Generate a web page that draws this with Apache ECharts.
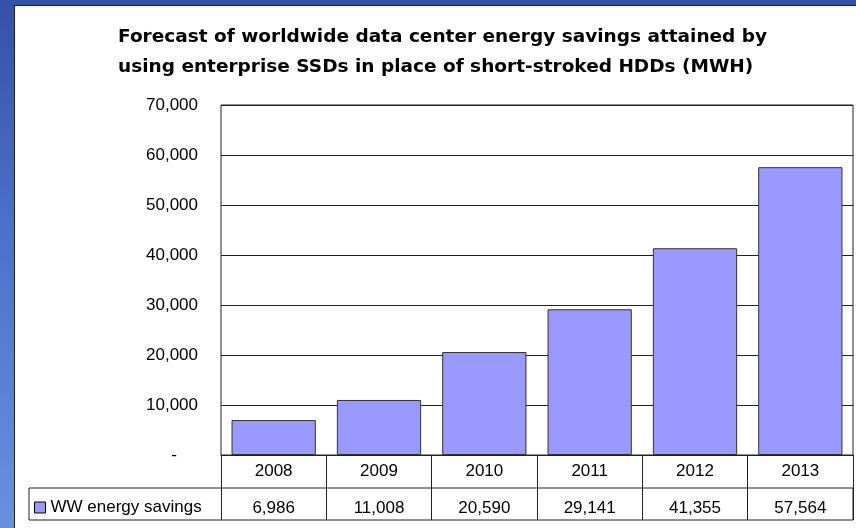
<!DOCTYPE html>
<html>
<head>
<meta charset="utf-8">
<script src="https://cdn.jsdelivr.net/npm/echarts@6/dist/echarts.min.js"></script>
<style>
  html, body { margin: 0; padding: 0; }
  body {
    width: 856px; height: 528px; overflow: hidden; position: relative;
    background: linear-gradient(to bottom, #3550a8 0%, #4e72cc 45%, #6a8ee0 100%);
  }
  #panel {
    position: absolute; left: 14px; top: 5px; right: 0; bottom: 0;
    background: #fff; border-left: 1px solid #222; border-top: 1px solid #222;
  }
  #chart { position: absolute; left: 0; top: 0; width: 856px; height: 528px; }
</style>
</head>
<body>
<div id="panel"></div>
<div id="chart"></div>
<script>
// data
const years = ['2008', '2009', '2010', '2011', '2012', '2013']
const savings = [6986, 11008, 20590, 29141, 41355, 57564]
const seriesName = 'WW energy savings'
const titleText = 'Forecast of worldwide data center energy savings attained by\nusing enterprise SSDs in place of short-stroked HDDs (MWH)'

const FONT = '"Liberation Sans", Arial, sans-serif'
const fmt = (v) => v.toLocaleString('en-US')

const chart = echarts.init(document.getElementById('chart'))

const option = {
    backgroundColor: 'transparent',
    animation: false,
    title: {
        text: titleText,
        left: 118,
        top: 22,
        padding: 0,
        textStyle: {
            fontFamily: '"DejaVu Sans", Verdana, sans-serif',
            fontWeight: 'bold',
            fontSize: 18.5,
            lineHeight: 30,
            color: '#000'
        }
    },
    legend: {
        data: [seriesName],
        left: 34,
        top: 499,
        padding: 0,
        icon: 'rect',
        itemWidth: 11,
        itemHeight: 11,
        itemStyle: { borderColor: '#000', borderWidth: 1 },
        textStyle: { fontFamily: FONT, fontSize: 17, color: '#000' }
    },
    grid: [
        {
            // plot area
            left: 221, top: 105, width: 632, height: 350,
            show: true, borderColor: '#222', borderWidth: 1,
            backgroundColor: 'transparent'
        },
        {
            // data table row
            left: 29, top: 488, width: 824, height: 32,
            show: true, borderColor: '#222', borderWidth: 1,
            backgroundColor: 'transparent'
        }
    ],
    xAxis: {
        type: 'category',
        gridIndex: 0,
        data: years,
        axisLine: { show: true, lineStyle: { color: '#222', width: 1 } },
        axisTick: { show: true, length: 65, lineStyle: { color: '#222', width: 1 } },
        axisLabel: {
            margin: 0,
            interval: 0,
            formatter: (val, idx) => '{a|' + val + '}\n{b|' + fmt(savings[idx]) + '}',
            rich: {
                a: { fontFamily: FONT, fontSize: 17, color: '#000', lineHeight: 33 },
                b: { fontFamily: FONT, fontSize: 17, color: '#000', lineHeight: 37, padding: [4, 0, 0, 0] }
            }
        }
    },
    yAxis: {
        type: 'value',
        gridIndex: 0,
        min: 0,
        max: 70000,
        interval: 10000,
        axisLine: { show: false },
        axisTick: { show: false },
        splitLine: { show: true, lineStyle: { color: '#222', width: 1 } },
        axisLabel: {
            margin: 23,
            fontFamily: FONT,
            fontSize: 17,
            color: '#000',
            formatter: (v) => v === 0 ? '{z|-}' : fmt(v),
            rich: {
                z: { fontFamily: FONT, fontSize: 17, color: '#000', padding: [0, 21, 0, 0] }
            }
        }
    },
    series: [
        {
            name: seriesName,
            type: 'bar',
            xAxisIndex: 0,
            yAxisIndex: 0,
            data: savings,
            barCategoryGap: '20%',
            itemStyle: {
                color: '#9999ff',
                borderColor: '#333',
                borderWidth: 1
            }
        }
    ]
}

chart.setOption(option)
</script>
</body>
</html>
